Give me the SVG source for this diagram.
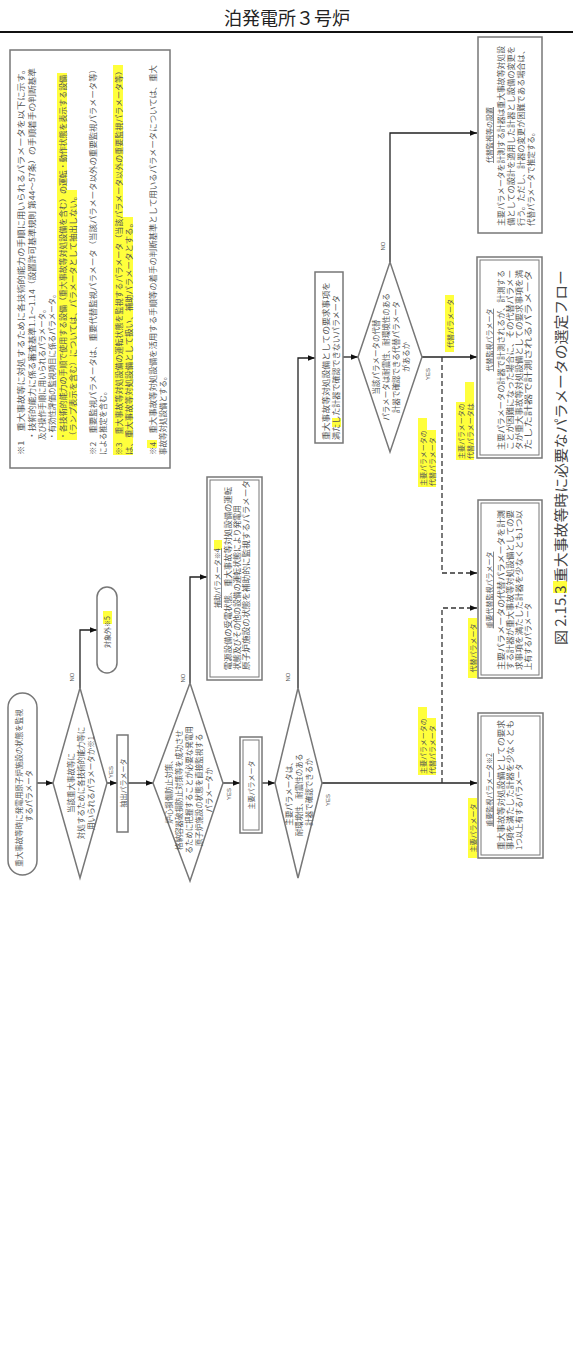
<svg xmlns="http://www.w3.org/2000/svg" width="573" height="1362" viewBox="0 0 573 1362">
<style>
.t{font-family:"Noto Sans CJK JP","Noto Sans",sans-serif;font-size:7.5px;fill:#555;text-anchor:middle;dominant-baseline:central}
.ts{font-family:"Noto Sans CJK JP","Noto Sans",sans-serif;font-size:7.5px;fill:#555;text-anchor:start;dominant-baseline:central}
.u{text-decoration:underline}
.ln{stroke:#222;stroke-width:1.3;fill:none}
.dl{stroke:#333;stroke-width:1.3;fill:none;stroke-dasharray:5 3}
.bx{fill:#fff;stroke:#777;stroke-width:1.5}
.bi{fill:none;stroke:#777;stroke-width:1}
.hl{fill:#ffff3c}
.lb{font-family:"Liberation Sans",sans-serif;font-size:6px;fill:#555;text-anchor:middle;dominant-baseline:central}
</style>
<defs>
<marker id="ah" viewBox="0 0 10 10" refX="10" refY="5" markerWidth="7" markerHeight="7" orient="auto" markerUnits="userSpaceOnUse"><path d="M0,1 L10,5 L0,9 z" fill="#111"/></marker>
</defs>
<rect width="573" height="1362" fill="#fff"/>
<g id="header">
<text x="287" y="25" style="font-family:'Noto Sans CJK JP',sans-serif;font-size:18px;fill:#222;text-anchor:middle">泊発電所３号炉</text>
<line x1="0" y1="32" x2="573" y2="32" stroke="#111" stroke-width="2"/>
</g>
<g id="notes">
<rect x="10" y="50" width="160" height="418" class="bx" stroke-width="1.2"/>
<rect x="57" y="73" width="10" height="367" class="hl"/>
<rect x="67" y="190" width="10" height="250" class="hl"/>
<rect x="113" y="65" width="10" height="390" class="hl"/>
<rect x="123" y="217" width="10" height="238" class="hl"/>
<rect x="147" y="440" width="10" height="8" class="hl"/>
<text class="ts" transform="translate(20,455) rotate(-90)" textLength="390" lengthAdjust="spacingAndGlyphs">※1　重大事故等に対処するために各技術的能力の手順に用いられるパラメータを以下に示す。</text>
<text class="ts" transform="translate(31,440) rotate(-90)" textLength="372" lengthAdjust="spacingAndGlyphs">・技術的能力に係る審査基準1.1～1.14（設置許可基準規則 第44～57条）の手順着手の判断基準</text>
<text class="ts" transform="translate(41,440) rotate(-90)">及び操作手順に用いられるパラメータ。</text>
<text class="ts" transform="translate(51,440) rotate(-90)">・有効性評価の監視項目に係るパラメータ。</text>
<text class="ts" transform="translate(62,440) rotate(-90)" textLength="365" lengthAdjust="spacingAndGlyphs">・各技術的能力の手順で使用する設備（重大事故等対処設備を含む）の運転・動作状態を表示する設備</text>
<text class="ts" transform="translate(72,440) rotate(-90)" textLength="248" lengthAdjust="spacingAndGlyphs">（ランプ表示を含む）については、パラメータとして抽出しない。</text>
<text class="ts" transform="translate(92,455) rotate(-90)" textLength="390" lengthAdjust="spacingAndGlyphs">※2　重要監視パラメータは、重要代替監視パラメータ（当該パラメータ以外の重要監視パラメータ等）</text>
<text class="ts" transform="translate(102,455) rotate(-90)">による推定を含む。</text>
<text class="ts" transform="translate(118,455) rotate(-90)" textLength="388" lengthAdjust="spacingAndGlyphs">※3　重大事故等対処設備の運転状態を監視するパラメータ（当該パラメータ以外の重要監視パラメータ等）</text>
<text class="ts" transform="translate(128,455) rotate(-90)" textLength="236" lengthAdjust="spacingAndGlyphs">は、重大事故等対処設備として扱い、補助パラメータとする。</text>
<text class="ts" transform="translate(152,455) rotate(-90)" textLength="390" lengthAdjust="spacingAndGlyphs">※4　重大事故等対処設備を活用する手順等の着手の判断基準として用いるパラメータについては、重大</text>
<text class="ts" transform="translate(162,455) rotate(-90)">事故等対処設備とする。</text>
</g>
<g id="connectors">
<path class="ln" d="M37,783 H53" marker-end="url(#ah)"/>
<path class="ln" d="M107,783 H117" marker-end="url(#ah)"/>
<path class="ln" d="M128,783 H153" marker-end="url(#ah)"/>
<path class="ln" d="M80,688 V630 H97" marker-end="url(#ah)"/>
<path class="ln" d="M223,783 H240" marker-end="url(#ah)"/>
<path class="ln" d="M262,783 H275" marker-end="url(#ah)"/>
<path class="ln" d="M190,683 V577 H207" marker-end="url(#ah)"/>
<path class="ln" d="M298,688 V358 H315" marker-end="url(#ah)"/>
<path class="ln" d="M343,357 H358" marker-end="url(#ah)"/>
<path class="ln" d="M390,262 V133 H477" marker-end="url(#ah)"/>
<path class="ln" d="M422,357 H477" marker-end="url(#ah)"/>
<path class="ln" d="M322,783 H477" marker-end="url(#ah)"/>
<path class="dl" d="M442,357 V573 H477" marker-end="url(#ah)"/>
<path class="dl" d="M442,783 V608 H477" marker-end="url(#ah)"/>
<text class="lb" transform="translate(72,677) rotate(-90)">NO</text>
<text class="lb" transform="translate(111,772) rotate(-90)">YES</text>
<text class="lb" transform="translate(183,678) rotate(-90)">NO</text>
<text class="lb" transform="translate(229,794) rotate(-90)">YES</text>
<text class="lb" transform="translate(288,677) rotate(-90)">NO</text>
<text class="lb" transform="translate(328,800) rotate(-90)">YES</text>
<text class="lb" transform="translate(383,246) rotate(-90)">NO</text>
<text class="lb" transform="translate(428,374) rotate(-90)">YES</text>
</g>
<g id="labels">
<rect x="445" y="295" width="9" height="57" class="hl"/>
<text class="t" transform="translate(449.5,323.5) rotate(-90)" style="font-size:7px">代替パラメータ</text>
<rect x="456" y="402" width="9" height="58" class="hl"/>
<rect x="465" y="382" width="9" height="78" class="hl"/>
<text class="ts" transform="translate(460.5,459) rotate(-90)" style="font-size:7px">主要パラメータの</text>
<text class="ts" transform="translate(469.5,459) rotate(-90)" style="font-size:7px">代替パラメータは</text>
<rect x="418" y="418" width="9" height="69" class="hl"/>
<rect x="427" y="430" width="9" height="57" class="hl"/>
<text class="ts" transform="translate(422.5,486) rotate(-90)" style="font-size:7px">主要パラメータの</text>
<text class="ts" transform="translate(431.5,486) rotate(-90)" style="font-size:7px">代替パラメータ</text>
<rect x="468" y="618" width="9" height="60" class="hl"/>
<text class="t" transform="translate(472.5,648) rotate(-90)" style="font-size:7px">代替パラメータ</text>
<rect x="418" y="707" width="9" height="68" class="hl"/>
<rect x="427" y="718" width="9" height="57" class="hl"/>
<text class="ts" transform="translate(422.5,774) rotate(-90)" style="font-size:7px">主要パラメータの</text>
<text class="ts" transform="translate(431.5,774) rotate(-90)" style="font-size:7px">代替パラメータ</text>
<rect x="468" y="798" width="9" height="60" class="hl"/>
<text class="t" transform="translate(472.5,828) rotate(-90)" style="font-size:7px">主要パラメータ</text>
</g>
<g id="start">
<rect x="8" y="693" width="29" height="182" rx="14.5" class="bx"/>
<text class="t" transform="translate(18,788) rotate(-90)">重大事故等時に発電用原子炉施設の状態を監視</text>
<text class="t" transform="translate(28,796) rotate(-90)">するパラメータ</text>
</g>
<g id="d1">
<polygon points="53,783 80,688 107,783 80,878" class="bx" stroke="#333" stroke-width="1.2"/>
<text class="t" transform="translate(70,783) rotate(-90)">当該重大事故等に</text>
<text class="t" transform="translate(80,783) rotate(-90)">対処するために各技術的能力等に</text>
<text class="t" transform="translate(90,783) rotate(-90)">用いられるパラメータか※1</text>
</g>
<g id="excluded">
<rect x="97" y="587" width="20" height="86" rx="10" class="bx"/>
<rect x="103" y="611" width="9" height="13" class="hl"/>
<text class="ts" transform="translate(107,648) rotate(-90)" style="font-size:7px">対象外※5</text>
</g>
<g id="extracted">
<rect x="117" y="735" width="11" height="97" class="bx"/>
<text class="t" transform="translate(122.5,783) rotate(-90)" style="font-size:7px">抽出パラメータ</text>
</g>
<g id="d2">
<polygon points="153,783 190,683 223,783 190,881" class="bx" stroke="#333" stroke-width="1.2"/>
<text class="t" transform="translate(168,790) rotate(-90)">炉心損傷防止対策、</text>
<text class="t" transform="translate(178,790) rotate(-90)">格納容器破損防止対策等を成功させ</text>
<text class="t" transform="translate(188,790) rotate(-90)">るために把握することが必要な発電用</text>
<text class="t" transform="translate(198,790) rotate(-90)">原子炉施設の状態を直接監視する</text>
<text class="t" transform="translate(208,790) rotate(-90)">パラメータか</text>
</g>
<g id="aux">
<rect x="207" y="477" width="55" height="203" class="bx"/>
<rect x="210" y="480" width="49" height="197" class="bi"/>
<rect x="214" y="540" width="8" height="10" class="hl"/>
<text class="ts u" transform="translate(217,608) rotate(-90)" style="font-size:7px">補助パラメータ※4</text>
<text class="ts" transform="translate(227,670) rotate(-90)" textLength="183" lengthAdjust="spacingAndGlyphs">電源設備の受電状態、重大事故等対処設備の運転</text>
<text class="ts" transform="translate(236,670) rotate(-90)" textLength="165" lengthAdjust="spacingAndGlyphs">状態及びその他の設備の運転状態により発電用</text>
<text class="ts" transform="translate(245,670) rotate(-90)" textLength="190" lengthAdjust="spacingAndGlyphs">原子炉施設の状態を補助的に監視するパラメータ</text>
</g>
<g id="main">
<rect x="240" y="737" width="22" height="96" class="bx"/>
<rect x="243" y="740" width="16" height="90" class="bi"/>
<text class="t" transform="translate(251,785) rotate(-90)" style="font-size:7px">主要パラメータ</text>
</g>
<g id="d3">
<polygon points="275,783 298,688 322,783 298,878" class="bx" stroke="#333" stroke-width="1.2"/>
<text class="t" transform="translate(288,792) rotate(-90)">主要パラメータは、</text>
<text class="t" transform="translate(298,795) rotate(-90)">耐環境性、耐震性のある</text>
<text class="t" transform="translate(308,792) rotate(-90)">計器で確認できるか</text>
</g>
<g id="boxC">
<rect x="315" y="272" width="28" height="171" class="bx"/>
<rect x="332" y="418" width="9" height="9" class="hl"/>
<text class="ts" transform="translate(325,440) rotate(-90)" textLength="158" lengthAdjust="spacingAndGlyphs">重大事故等対処設備としての要求事項を</text>
<text class="ts" transform="translate(335,440) rotate(-90)" textLength="145" lengthAdjust="spacingAndGlyphs">満たした計器で確認できないパラメータ</text>
</g>
<g id="d4">
<polygon points="358,357 390,262 422,357 390,452" class="bx" stroke="#333" stroke-width="1.2"/>
<text class="t" transform="translate(375,357) rotate(-90)">当該パラメータの代替</text>
<text class="t" transform="translate(385,357) rotate(-90)">パラメータは耐震性、耐環境性のある</text>
<text class="t" transform="translate(395,357) rotate(-90)">計器で確認できる代替パラメータ</text>
<text class="t" transform="translate(405,357) rotate(-90)">があるか</text>
</g>
<g id="boxD">
<rect x="478" y="37" width="64" height="196" class="bx"/>
<text class="t u" transform="translate(489,135) rotate(-90)" style="font-size:7px">代替監視等の設置</text>
<text class="ts" transform="translate(500,226) rotate(-90)" textLength="180" lengthAdjust="spacingAndGlyphs">主要パラメータを計測する計器は重大事故等対処設</text>
<text class="ts" transform="translate(510,226) rotate(-90)" textLength="180" lengthAdjust="spacingAndGlyphs">備としての設計を適用した計器とし設備の変更を</text>
<text class="ts" transform="translate(520,226) rotate(-90)" textLength="180" lengthAdjust="spacingAndGlyphs">行う。ただし、計器の変更が困難である場合は、</text>
<text class="ts" transform="translate(530,226) rotate(-90)">代替パラメータで推定する。</text>
</g>
<g id="boxE">
<rect x="477" y="257" width="65" height="201" class="bx"/>
<rect x="480" y="260" width="59" height="195" class="bi"/>
<text class="t u" transform="translate(489,340) rotate(-90)" style="font-size:7px">代替監視パラメータ</text>
<text class="ts" transform="translate(500,450) rotate(-90)" textLength="180" lengthAdjust="spacingAndGlyphs">主要パラメータの計器で計測されるが、計測する</text>
<text class="ts" transform="translate(509,450) rotate(-90)" textLength="180" lengthAdjust="spacingAndGlyphs">ことが困難になった場合に、その代替パラメー</text>
<text class="ts" transform="translate(518,450) rotate(-90)" textLength="180" lengthAdjust="spacingAndGlyphs">タが重大事故等対処設備としての要求事項を満</text>
<text class="ts" transform="translate(527,450) rotate(-90)" textLength="180" lengthAdjust="spacingAndGlyphs">たした計器で計測されるパラメータ</text>
</g>
<g id="boxF">
<rect x="478" y="500" width="64" height="178" class="bx"/>
<rect x="481" y="503" width="58" height="172" class="bi"/>
<text class="t u" transform="translate(489,590) rotate(-90)" style="font-size:7px">重要代替監視パラメータ</text>
<text class="ts" transform="translate(500,670) rotate(-90)" textLength="160" lengthAdjust="spacingAndGlyphs">主要パラメータの代替パラメータを計測</text>
<text class="ts" transform="translate(509,670) rotate(-90)" textLength="160" lengthAdjust="spacingAndGlyphs">する計器が重大事故等対処設備としての要</text>
<text class="ts" transform="translate(518,670) rotate(-90)" textLength="160" lengthAdjust="spacingAndGlyphs">求事項を満たした計器を少なくとも1つ以</text>
<text class="ts" transform="translate(527,670) rotate(-90)">上有するパラメータ</text>
</g>
<g id="boxG">
<rect x="478" y="713" width="65" height="145" class="bx"/>
<rect x="481" y="716" width="59" height="139" class="bi"/>
<text class="t u" transform="translate(489,790) rotate(-90)" style="font-size:7px">重要監視パラメータ※2</text>
<text class="ts" transform="translate(500,850) rotate(-90)" textLength="130" lengthAdjust="spacingAndGlyphs">重大事故等対処設備としての要求</text>
<text class="ts" transform="translate(509,850) rotate(-90)" textLength="130" lengthAdjust="spacingAndGlyphs">事項を満たした計器を少なくとも</text>
<text class="ts" transform="translate(518,850) rotate(-90)">1つ以上有するパラメータ</text>
</g>
<g id="caption">
<rect x="553" y="581" width="14" height="12" class="hl"/>
<text transform="translate(560,645) rotate(-90)" style="font-family:'Noto Sans CJK JP',sans-serif;font-size:14px;fill:#444;dominant-baseline:central" textLength="375" lengthAdjust="spacingAndGlyphs">図 2.15.3 重大事故等時に必要なパラメータの選定フロー</text>
</g>
</svg>
